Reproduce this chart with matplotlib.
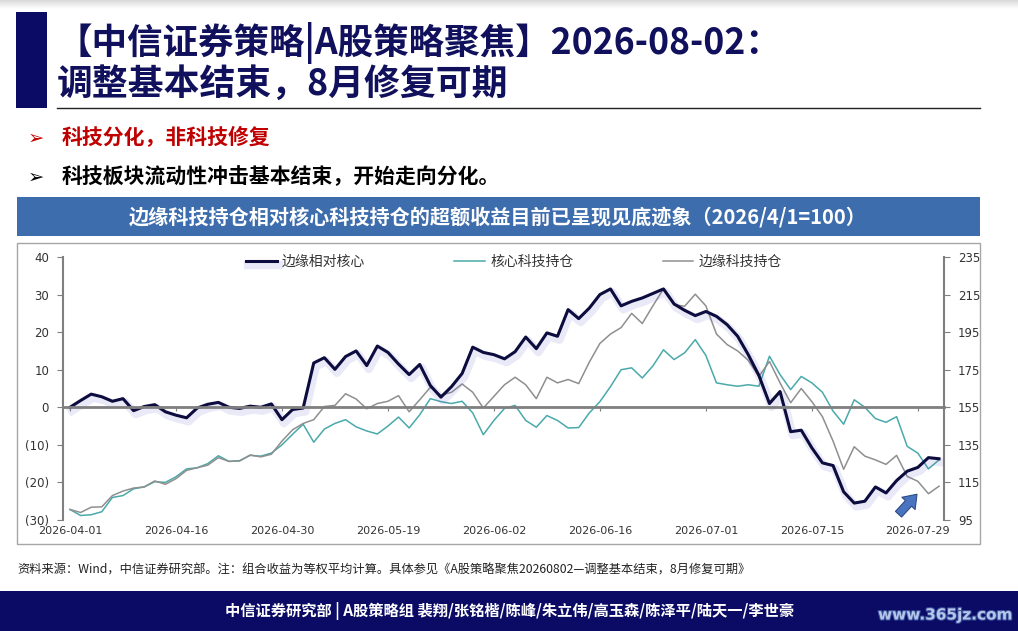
import matplotlib
matplotlib.use('Agg')
import matplotlib.pyplot as plt
import matplotlib.patheffects as pe
from matplotlib.patches import Rectangle
from matplotlib.ticker import FuncFormatter
import numpy as np

plt.rcParams['font.family'] = ['Noto Sans CJK SC', 'DejaVu Sans']

# 交易日序号 0..82，每 10 个交易日一个刻度
date_labels = ['2026-04-01', '2026-04-16', '2026-04-30', '2026-05-19', '2026-06-02',
               '2026-06-16', '2026-07-01', '2026-07-15', '2026-07-29']

# 边缘相对核心（左轴）
rel_edge_core = [0.0, 1.8, 3.5, 2.8, 1.6, 2.3, -0.9, 0.2, 0.7, -1.2,
                 -2.1, -2.8, -0.2, 0.8, 1.3, 0.0, -0.3, 0.3, 0.0, 0.9,
                 -3.3, -0.6, -0.2, 11.8, 13.2, 10.1, 13.5, 15.0, 11.1, 16.3,
                 14.6, 11.5, 8.7, 11.4, 5.8, 2.7, 5.5, 9.0, 16.0, 14.6,
                 14.0, 12.9, 14.8, 18.7, 15.6, 19.8, 18.9, 26.0, 23.6, 26.4,
                 30.0, 31.5, 27.0, 28.2, 29.1, 30.3, 31.5, 27.5, 25.8, 24.4,
                 25.5, 24.2, 22.0, 18.9, 14.0, 8.5, 1.0, 4.2, -6.5, -6.1,
                 -10.8, -14.8, -15.5, -22.5, -25.5, -25.0, -21.2, -22.8, -19.5, -17.0,
                 -16.0, -13.4, -13.7]

# 核心科技持仓（右轴，2026/4/1=100）
core_tech = [100.6, 97.4, 97.8, 99.4, 107.0, 108.0, 111.6, 112.6, 115.4, 115.0,
             118.0, 122.2, 122.8, 125.0, 129.2, 126.2, 126.6, 129.4, 129.0, 130.6,
             135.0, 140.6, 146.0, 136.4, 143.4, 146.4, 148.4, 144.6, 142.4, 140.8,
             145.0, 149.8, 144.0, 151.0, 159.6, 158.0, 157.0, 158.2, 152.0, 140.4,
             148.0, 154.4, 156.0, 148.0, 144.4, 150.6, 148.0, 144.0, 144.2, 152.0,
             158.0, 166.0, 175.0, 176.0, 170.6, 177.0, 185.6, 180.4, 184.0, 191.0,
             182.6, 168.0, 167.0, 166.2, 167.0, 166.2, 182.2, 172.4, 164.4, 171.4,
             168.0, 163.0, 153.0, 146.0, 159.0, 155.0, 149.0, 147.0, 150.0, 134.2,
             130.6, 122.2, 127.0]

# 边缘科技持仓（右轴）
edge_tech = [100.6, 99.0, 101.8, 102.0, 108.0, 110.4, 112.0, 112.6, 115.8, 114.0,
             117.0, 121.4, 122.8, 124.2, 128.2, 126.2, 126.4, 129.6, 128.6, 130.0,
             137.0, 143.0, 146.4, 148.4, 155.4, 156.0, 162.2, 159.4, 154.2, 157.0,
             158.2, 161.2, 152.6, 159.0, 165.6, 161.4, 163.0, 167.4, 163.0, 154.6,
             160.8, 167.0, 171.0, 167.0, 159.6, 171.0, 168.0, 169.8, 167.6, 179.0,
             189.0, 194.0, 197.4, 205.0, 199.6, 209.0, 218.0, 209.6, 208.8, 215.2,
             209.0, 194.0, 188.4, 185.0, 180.0, 171.4, 179.4, 168.0, 157.4, 165.0,
             158.0, 150.0, 137.0, 122.0, 134.0, 129.0, 127.0, 124.6, 129.4, 118.2,
             115.6, 109.0, 113.0]

W, H = 1018, 631
NAVY = '#0b0b66'
fig = plt.figure(figsize=(W / 100, H / 100), dpi=100)


def fx(x):
    return x / W


def fy(y):
    return 1 - y / H


def box(x0, y0, x1, y1, **kw):
    fig.patches.append(Rectangle((fx(x0), fy(y1)), fx(x1) - fx(x0), fy(y0) - fy(y1),
                                 transform=fig.transFigure, **kw))


# 顶部阴影
grad = fig.add_axes([0, fy(9), 1, 9 / H])
grad.imshow(np.linspace(0.85, 1.0, 20).reshape(-1, 1), aspect='auto', cmap='gray', vmin=0, vmax=1)
grad.axis('off')

# 标题
box(16, 12, 47, 108, facecolor=NAVY, edgecolor='none')
fig.text(fx(57), fy(43), '【中信证券策略|A股策略聚焦】2026-08-02：', fontsize=25.6,
         fontweight='bold', color='#10105c', va='center', ha='left')
fig.text(fx(57), fy(84), '调整基本结束，8月修复可期', fontsize=25.8,
         fontweight='bold', color='#10105c', va='center', ha='left')
fig.lines.append(plt.Line2D([fx(57), fx(980)], [fy(108), fy(108)], color='#222222',
                            linewidth=1, transform=fig.transFigure))

# 要点
fig.text(fx(28), fy(138), '➢', fontsize=14, color='#c00000', va='center', family='DejaVu Sans')
fig.text(fx(62), fy(138), '科技分化，非科技修复', fontsize=15, fontweight='bold',
         color='#c00000', va='center')
fig.text(fx(28), fy(177), '➢', fontsize=14, color='black', va='center', family='DejaVu Sans')
fig.text(fx(62), fy(177), '科技板块流动性冲击基本结束，开始走向分化。', fontsize=15,
         fontweight='bold', color='black', va='center')

# 图表标题栏与边框
box(17, 197, 980, 236, facecolor='#3d6dad', edgecolor='none')
fig.text(fx(498), fy(217), '边缘科技持仓相对核心科技持仓的超额收益目前已呈现见底迹象（2026/4/1=100）',
         fontsize=14.5, fontweight='bold', color='white', ha='center', va='center')
box(17, 243, 980, 544, facecolor='none', edgecolor='#a6a6a6', linewidth=1)

# 主图
x = np.arange(len(rel_edge_core))
ax = fig.add_axes([fx(63), fy(520), fx(944) - fx(63), fy(257) - fy(520)])
ax2 = ax.twinx()
ax.set_zorder(ax2.get_zorder() + 1)
ax.patch.set_visible(False)

l2, = ax2.plot(x, core_tech, color='#4aa9aa', linewidth=1.1, label='核心科技持仓')
l3, = ax2.plot(x, edge_tech, color='#8f8f8f', linewidth=1.1, label='边缘科技持仓')
l1, = ax.plot(x, rel_edge_core, color='#0c0c3e', linewidth=2.2, label='边缘相对核心',
              path_effects=[pe.SimpleLineShadow(offset=(1.5, -2.5), shadow_color='#5a5ac8',
                                                alpha=0.13, linewidth=6), pe.Normal()])

ax.set_xlim(-0.66, 82.47)
ax.set_ylim(-30, 40)
ax2.set_ylim(95, 235)
ax.set_yticks(range(-30, 41, 10))
ax2.set_yticks(range(95, 236, 20))
ax.yaxis.set_major_formatter(FuncFormatter(lambda v, p: f'({abs(int(v))})' if v < 0 else f'{int(v)}'))

axis_grey = '#7f7f7f'
for a in (ax, ax2):
    a.spines['top'].set_visible(False)
    a.spines['left'].set_color(axis_grey)
    a.spines['right'].set_color(axis_grey)
    a.spines['left'].set_linewidth(1.5)
    a.spines['right'].set_linewidth(1.5)
ax.spines['right'].set_visible(False)
ax2.spines['left'].set_visible(False)
ax2.spines['bottom'].set_visible(False)
ax.spines['bottom'].set_position(('data', 0))
ax.spines['bottom'].set_color(axis_grey)
ax.spines['bottom'].set_linewidth(2)

tick_pos = list(range(0, 81, 10))
ax.set_xticks(tick_pos)
ax.tick_params(axis='x', direction='out', length=3, color=axis_grey, labelbottom=False)
ax.tick_params(axis='y', direction='out', length=4, color=axis_grey, labelsize=8.5,
               labelcolor='#333333', pad=6)
ax2.tick_params(axis='y', direction='out', length=4, color=axis_grey, labelsize=8.5,
                labelcolor='#333333', pad=6)
for t in ax.get_yticklabels() + ax2.get_yticklabels():
    t.set_family('DejaVu Sans')

sec = ax.secondary_xaxis('bottom')
sec.set_xticks(tick_pos, date_labels)
sec.tick_params(length=0, labelsize=8, labelcolor='#333333', pad=4)
sec.spines['bottom'].set_visible(False)
for t in sec.get_xticklabels():
    t.set_family('DejaVu Sans')

ax.annotate('', xy=(80.1, -22.6), xytext=(78.0, -29.0),
            arrowprops=dict(arrowstyle='simple,head_width=1.3,head_length=0.9,tail_width=0.6',
                            fc='#4a74c0', ec='#2d4d85', lw=0.8))

fig.legend(handles=[l1, l2, l3], loc='center', bbox_to_anchor=(fx(514), fy(262)), ncol=3,
           frameon=False, fontsize=10, handlelength=2.2, columnspacing=6.4,
           handletextpad=0.4, labelcolor='#333333')

# 资料来源
fig.text(fx(17), fy(570), '资料来源：Wind，中信证券研究部。注：组合收益为等权平均计算。具体参见《A股策略聚焦20260802—调整基本结束，8月修复可期》',
         fontsize=8.8, color='#222222', va='center')

# 底栏
box(0, 591, 1018, 631, facecolor=NAVY, edgecolor='none')
fig.text(fx(510), fy(611), '中信证券研究部 | A股策略组 裴翔/张铭楷/陈峰/朱立伟/高玉森/陈泽平/陆天一/李世豪',
         fontsize=11, fontweight='bold', color='white', ha='center', va='center')
fig.text(fx(1012), fy(615), 'www.365jz.com', fontsize=11, fontweight='bold', color='#b4c6ea',
         ha='right', va='center', family='DejaVu Sans',
         path_effects=[pe.withStroke(linewidth=1.5, foreground='#3b4f9a')])

fig.savefig('out.png', dpi=100)
